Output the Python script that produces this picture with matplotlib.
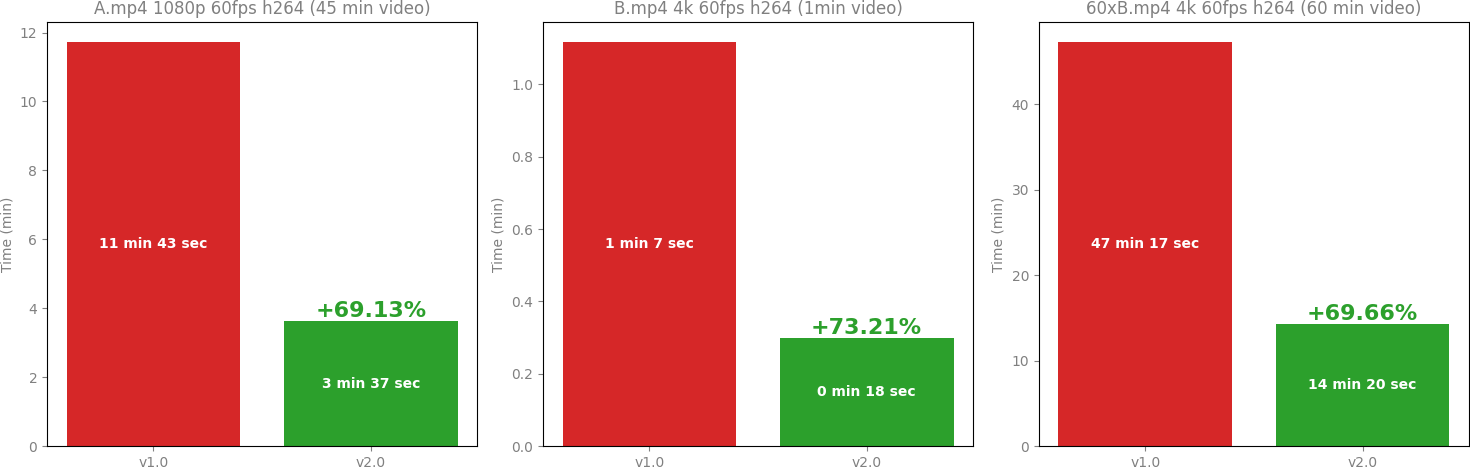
import matplotlib
matplotlib.use("Agg")
import matplotlib.pyplot as plt

titles = ["A.mp4 1080p 60fps h264 (45 min video)",
          "B.mp4 4k 60fps h264 (1min video)",
          "60xB.mp4 4k 60fps h264 (60 min video)"]
versions = ["v1.0", "v2.0"]
v1_minutes = [11 + 43/60, 1 + 7/60, 47 + 17/60]
v2_minutes = [3 + 37/60, 0 + 18/60, 14 + 20/60]
v1_labels = ["11 min 43 sec", "1 min 7 sec", "47 min 17 sec"]
v2_labels = ["3 min 37 sec", "0 min 18 sec", "14 min 20 sec"]
gains = ["+69.13%", "+73.21%", "+69.66%"]

colors = ["#d62728", "#2ca02c"]
gray = "#808080"

fig, axes = plt.subplots(1, 3, figsize=(14.7, 4.7), dpi=100)
fig.subplots_adjust(left=0.032, right=0.9993, top=0.953, bottom=0.051, wspace=0.153)

for i, ax in enumerate(axes):
    vals = [v1_minutes[i], v2_minutes[i]]
    bars = ax.bar(versions, vals, color=colors, width=0.8)
    labs = [v1_labels[i], v2_labels[i]]
    for b, v, t in zip(bars, vals, labs):
        ax.text(b.get_x() + b.get_width() / 2, v / 2, t, ha="center", va="center",
                color="white", fontweight="bold", fontsize=10)
    b = bars[1]
    ax.text(b.get_x() + b.get_width() / 2, vals[1], gains[i], ha="center", va="bottom",
            color=colors[1], fontweight="bold", fontsize=16)
    ax.set_title(titles[i], color=gray, fontsize=12)
    ax.set_ylabel("Time (min)", color=gray)
    ax.tick_params(colors=gray, labelcolor=gray)

fig.savefig("out.png", dpi=100)
